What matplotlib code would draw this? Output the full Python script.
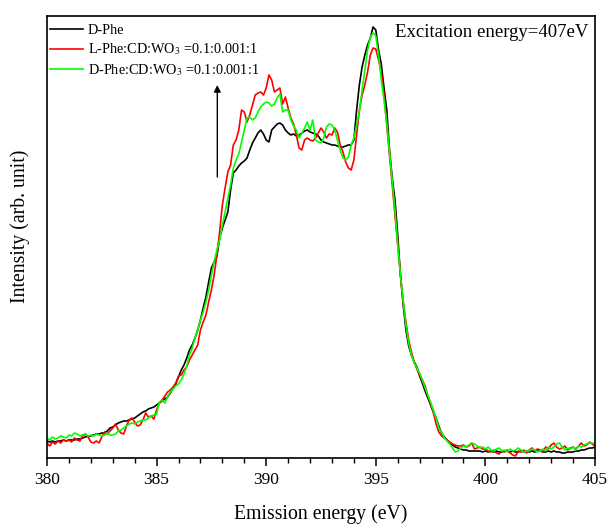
import numpy as np
import matplotlib
matplotlib.use("Agg")
import matplotlib.pyplot as plt
from matplotlib.ticker import MultipleLocator

plt.rcParams['font.family'] = ['Liberation Serif', 'DejaVu Serif']
plt.rcParams['mathtext.fontset'] = 'stix'

# Emission energy grid (eV), 0.125 eV steps from 380 to 405
energy = np.linspace(380, 405, 201)

d_phe_px = [441, 442, 441, 442, 441, 441, 440, 441,
            440, 440, 440, 439, 439, 438, 437, 436,
            436, 435, 434, 434, 433, 433, 431, 428,
            427, 425, 423, 422, 421, 421, 420, 419,
            418, 416, 414, 412, 411, 409, 408, 407,
            405, 403, 401, 399, 397, 393, 388, 384,
            377, 370, 365, 358, 350, 345, 338, 330,
            320, 308, 297, 282, 268, 262, 256, 238,
            228, 220, 212, 190, 173, 170, 166, 163,
            161, 158, 150, 143, 138, 133, 130, 134,
            140, 142, 130, 127, 124, 123, 125, 130,
            133, 135, 134, 136, 135, 133, 131, 130,
            132, 133, 134, 136, 140, 142, 143, 144,
            145, 145, 146, 147, 147, 146, 145, 145,
            140, 110, 85, 67, 55, 45, 38, 27,
            30, 50, 64, 88, 110, 150, 178, 200,
            235, 275, 305, 330, 346, 355, 362, 367,
            376, 383, 391, 398, 405, 412, 418, 426,
            433, 437, 440, 443, 445, 447, 448, 449,
            450, 450, 451, 451, 451, 451, 451, 452,
            451, 452, 451, 452, 451, 452, 452, 451,
            451, 452, 451, 452, 452, 451, 452, 451,
            452, 451, 452, 451, 451, 452, 452, 451,
            452, 451, 452, 452, 453, 453, 452, 452,
            452, 451, 451, 450, 450, 449, 448, 448,
            447]
l_phe_px = [443, 446, 442, 444, 441, 443, 440, 441,
            440, 442, 438, 440, 441, 436, 434, 437,
            442, 443, 441, 443, 437, 432, 434, 431,
            428, 424, 430, 433, 434, 426, 420, 418,
            422, 426, 425, 420, 413, 417, 416, 419,
            410, 403, 400, 396, 392, 390, 387, 383,
            376, 375, 370, 367, 360, 355, 350, 345,
            330, 322, 315, 302, 290, 275, 255, 232,
            205, 188, 172, 165, 145, 140, 130, 110,
            112, 122, 115, 105, 95, 93, 92, 95,
            88, 75, 80, 92, 90, 88, 104, 97,
            108, 118, 124, 135, 148, 150, 140, 138,
            140, 141, 138, 133, 128, 132, 138, 134,
            135, 128, 132, 145, 152, 162, 168, 170,
            160, 135, 110, 95, 85, 72, 55, 48,
            49, 60, 72, 95, 125, 155, 185, 215,
            245, 275, 302, 322, 340, 352, 362, 369,
            375, 380, 386, 396, 404, 412, 424, 432,
            436, 438, 440, 442, 444, 445, 446, 446,
            445, 447, 446, 443, 449, 448, 447, 449,
            449, 451, 452, 450, 453, 454, 451, 452,
            450, 453, 455, 456, 451, 452, 450, 453,
            450, 448, 451, 449, 450, 452, 447, 449,
            445, 443, 447, 449, 448, 446, 450, 448,
            447, 449, 446, 443, 446, 445, 442, 444,
            446]
d_mix_px = [438, 440, 437, 439, 438, 436, 437, 438,
            435, 436, 433, 434, 436, 435, 434, 436,
            435, 436, 434, 435, 436, 435, 433, 435,
            435, 434, 431, 430, 428, 426, 424, 423,
            424, 422, 421, 420, 420, 418, 416, 415,
            414, 402, 400, 403, 397, 392, 389, 386,
            384, 380, 374, 366, 355, 348, 338, 330,
            320, 312, 302, 290, 275, 262, 250, 240,
            225, 212, 198, 185, 168, 160, 154, 142,
            130, 118, 117, 120, 118, 112, 107, 104,
            102, 103, 106, 104, 98, 94, 112, 110,
            110, 120, 126, 130, 138, 133, 128, 122,
            130, 120, 140, 142, 143, 138, 127, 124,
            125, 130, 140, 150, 158, 160, 157, 145,
            138, 125, 112, 90, 70, 50, 37, 33,
            36, 55, 80, 100, 123, 152, 180, 210,
            245, 275, 300, 325, 343, 355, 363, 368,
            373, 380, 388, 395, 402, 410, 418, 428,
            432, 438, 441, 444, 448, 452, 451, 448,
            446, 447, 445, 443, 444, 446, 448, 447,
            449, 447, 450, 451, 449, 448, 451, 450,
            452, 449, 451, 450, 448, 450, 452, 451,
            451, 449, 450, 452, 451, 449, 451, 447,
            449, 447, 444, 443, 447, 450, 448, 449,
            447, 450, 446, 447, 445, 444, 443, 443,
            444]

d_phe = 458 - np.array(d_phe_px)
l_phe = 458 - np.array(l_phe_px)
d_mix = 458 - np.array(d_mix_px)

labels = ['D-Phe', 'L-Phe:CD:WO$_3$ =0.1:0.001:1', 'D-Phe:CD:WO$_3$ =0.1:0.001:1']
colors = ['black', '#ff0000', '#00ff00']

fig = plt.figure(figsize=(6.08, 5.27), dpi=100)
ax = fig.add_axes([47/608, 69/527, 548/608, 442/527])

for y, lab, c in zip([d_phe, l_phe, d_mix], labels, colors):
    ax.plot(energy, y, color=c, lw=1.2, label=lab)

ax.set_xlim(380, 405)
ax.set_ylim(0, 442)
ax.xaxis.set_major_locator(MultipleLocator(5))
ax.xaxis.set_minor_locator(MultipleLocator(1))
ax.tick_params(axis='x', which='major', direction='out', length=6, width=1.1, labelsize=12.5, pad=4)
ax.tick_params(axis='x', which='minor', direction='out', length=3.5, width=1.0)
ax.set_yticks([])
for s in ax.spines.values():
    s.set_linewidth(1.2)

ax.set_xlabel('Emission energy (eV)', fontsize=14.2, labelpad=12)
ax.set_ylabel('Intensity (arb. unit)', fontsize=14.2)
ax.yaxis.set_label_coords(-0.031, 0.525)

ax.text(0.987, 0.962, 'Excitation energy=407eV', transform=ax.transAxes,
        ha='right', va='center', fontsize=13.5)

ax.annotate('', xy=(387.77, 373), xytext=(387.77, 281),
            arrowprops=dict(arrowstyle='-|>', color='black', lw=1.0,
                            mutation_scale=10, shrinkA=0, shrinkB=0))

leg = ax.legend(loc='upper left', frameon=False, fontsize=10.3, handlelength=2.3,
                handletextpad=0.35, labelspacing=0.33, borderaxespad=0.0, borderpad=0.55,
                bbox_to_anchor=(-0.009, 1.0))

fig.savefig('out.png', dpi=100)
